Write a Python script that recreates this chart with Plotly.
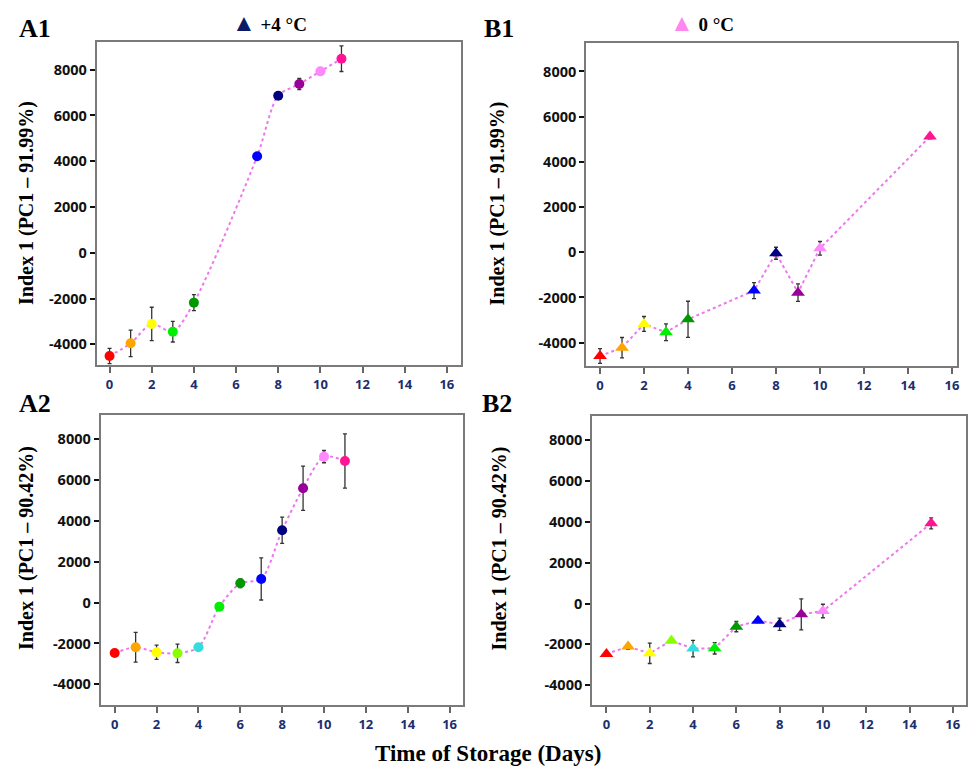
import plotly.graph_objects as go

# ---------------- data ----------------
a1_days = [0, 1, 2, 3, 4, 7, 8, 9, 10, 11]
a1_vals = [-4510, -3956, -3110, -3450, -2180, 4214, 6864, 7374, 7927, 8480]
a1_err = [330, 580, 730, 450, 350, 0, 0, 240, 0, 560]
a1_cols = ["#ff0000", "#ffa500", "#ffff00", "#00ee00", "#009900", "#0000ff", "#000080", "#990099", "#ff88ff", "#ff1493"]

b1_days = [0, 1, 2, 3, 4, 7, 8, 9, 10, 15]
b1_vals = [-4590, -4221, -3173, -3542, -2967, -1697, -44, -1786, 177, 5122]
b1_err = [330, 450, 330, 370, 800, 350, 265, 390, 300, 100]
b1_cols = ["#ff0000", "#ffa500", "#ffff00", "#00ee00", "#009900", "#0000ff", "#000080", "#990099", "#ff88ff", "#ff1493"]

a2_days = [0, 1, 2, 3, 4, 5, 6, 7, 8, 9, 10, 11]
a2_vals = [-2465, -2188, -2433, -2482, -2188, -196, 947, 1159, 3543, 5600, 7151, 6939]
a2_err = [0, 730, 350, 450, 0, 0, 210, 1030, 645, 1085, 300, 1330]
a2_cols = ["#ff0000", "#ffa500", "#ffff00", "#88ff00", "#33dddd", "#00ee00", "#009900", "#0000ff", "#000080", "#990099", "#ff88ff", "#ff1493"]

b2_days = [0, 1, 2, 3, 4, 5, 6, 7, 8, 9, 10, 15]
b2_vals = [-2467, -2108, -2434, -1815, -2206, -2190, -1130, -837, -1017, -528, -365, 3924]
b2_err = [0, 130, 500, 0, 400, 280, 250, 100, 300, 760, 330, 270]
b2_cols = ["#ff0000", "#ffa500", "#ffff00", "#88ff00", "#33dddd", "#00ee00", "#009900", "#0000ff", "#000080", "#990099", "#ff88ff", "#ff1493"]

x_ticks = [0, 2, 4, 6, 8, 10, 12, 14, 16]
y_ticks = [-4000, -2000, 0, 2000, 4000, 6000, 8000]

panel_labels = ["A1", "B1", "A2", "B2"]
y_titles = ["Index 1 (PC1 – 91.99%)", "Index 1 (PC1 – 91.99%)",
            "Index 1 (PC1 – 90.42%)", "Index 1 (PC1 – 90.42%)"]
legend_labels = ["+4 °C", "0 °C"]
legend_colors = ["#0b1a66", "#ff88f0"]
x_title = "Time of Storage (Days)"

# ---------------- layout geometry ----------------
W, H = 971, 768
boxes = {  # left, right, top, bottom in px
    "A1": (97, 462, 42, 365),
    "B1": (588, 960, 43, 366),
    "A2": (101, 464, 415, 705),
    "B2": (594, 969, 416, 705),
}
xranges = {"A1": [-0.61, 16.65], "B1": [-0.63, 16.23], "A2": [-0.67, 16.62], "B2": [-0.66, 16.61]}
yranges = {"A1": [-4904, 9210], "B1": [-5032, 9258], "A2": [-5014, 9190], "B2": [-4964, 9174]}

panels = [
    ("A1", a1_days, a1_vals, a1_err, a1_cols, "circle", 10, "spline"),
    ("B1", b1_days, b1_vals, b1_err, b1_cols, "triangle-up", 12, "linear"),
    ("A2", a2_days, a2_vals, a2_err, a2_cols, "circle", 10, "spline"),
    ("B2", b2_days, b2_vals, b2_err, b2_cols, "triangle-up", 12, "linear"),
]

fig = go.Figure()
serif = "Liberation Serif"
sans = "Open Sans"
tick_blue = "#1c2e6e"

x_ticktext = [f"<b>{v}</b>" for v in x_ticks]
y_ticktext = [f"<b>{v}</b>" for v in y_ticks]

for i, (name, xs, ys, es, cs, sym, msz, shape) in enumerate(panels):
    idx = i + 1
    xa = "x" if idx == 1 else f"x{idx}"
    ya = "y" if idx == 1 else f"y{idx}"
    l, r, t, b = boxes[name]
    # dotted connecting line
    fig.add_trace(go.Scatter(
        x=xs, y=ys, mode="lines", xaxis=xa, yaxis=ya,
        line=dict(color="#ee77ee", width=2, dash="dot", shape=shape, smoothing=0.8),
        showlegend=False, hoverinfo="skip"))
    # error bars + markers
    fig.add_trace(go.Scatter(
        x=xs, y=ys, mode="markers", xaxis=xa, yaxis=ya,
        marker=dict(color=cs, size=msz, symbol=sym, line=dict(width=0)),
        error_y=dict(type="data", array=es, visible=True, color="#333333", thickness=1.3, width=2),
        showlegend=False))
    axkey_x = "xaxis" if idx == 1 else f"xaxis{idx}"
    axkey_y = "yaxis" if idx == 1 else f"yaxis{idx}"
    fig.update_layout(**{
        axkey_x: dict(domain=[l / W, r / W], range=xranges[name], anchor=ya,
                      tickvals=x_ticks, ticktext=x_ticktext, showgrid=False, zeroline=False,
                      showline=True, mirror=True, linecolor="#7a7a7a", linewidth=2,
                      ticks="outside", ticklen=6, tickwidth=1.5, tickcolor="#666666",
                      tickfont=dict(family=sans, size=13, color=tick_blue)),
        axkey_y: dict(domain=[1 - b / H, 1 - t / H], range=yranges[name], anchor=xa,
                      tickvals=y_ticks, ticktext=y_ticktext, showgrid=False, zeroline=False,
                      showline=True, mirror=True, linecolor="#7a7a7a", linewidth=2,
                      ticks="outside", ticklen=5, tickwidth=2, tickcolor="#111111",
                      tickfont=dict(family=sans, size=14.5, color="#111111")),
    })

annotations = []
# panel labels
label_pos = {"A1": (17, 29), "B1": (483, 29), "A2": (17, 403), "B2": (481, 403)}
for name in panel_labels:
    px, py = label_pos[name]
    annotations.append(dict(text=f"<b>{name}</b>", x=px / W, y=1 - py / H, xref="paper", yref="paper",
                            xanchor="left", yanchor="middle", showarrow=False,
                            font=dict(family=serif, size=26, color="black")))
# y titles
ytitle_pos = [(26, 203), (499, 203), (26, 548), (501, 548)]
for txt, (px, py) in zip(y_titles, ytitle_pos):
    annotations.append(dict(text=f"<b>{txt}</b>", x=px / W, y=1 - py / H, xref="paper", yref="paper",
                            xanchor="center", yanchor="middle", showarrow=False, textangle=-90,
                            font=dict(family=serif, size=20, color="black")))
# legend-like headers
legend_pos = [(231, 23), (670, 23)]
for txt, col, (px, py) in zip(legend_labels, legend_colors, legend_pos):
    annotations.append(dict(text=f"<span style='color:{col};font-size:24px'>▲</span> <b>{txt}</b>",
                            x=px / W, y=1 - py / H, xref="paper", yref="paper",
                            xanchor="left", yanchor="middle", showarrow=False,
                            font=dict(family=serif, size=19, color="black")))
# x title
annotations.append(dict(text=f"<b>{x_title}</b>", x=490 / W, y=1 - 753 / H, xref="paper", yref="paper",
                        xanchor="center", yanchor="middle", showarrow=False,
                        font=dict(family=serif, size=23, color="black")))

fig.update_layout(width=W, height=H, margin=dict(l=0, r=0, t=0, b=0),
                  paper_bgcolor="white", plot_bgcolor="white",
                  annotations=annotations)

fig.write_html("out.html", config={"displayModeBar": False},
               post_script="document.body.style.margin='0';document.body.style.overflow='hidden';")
